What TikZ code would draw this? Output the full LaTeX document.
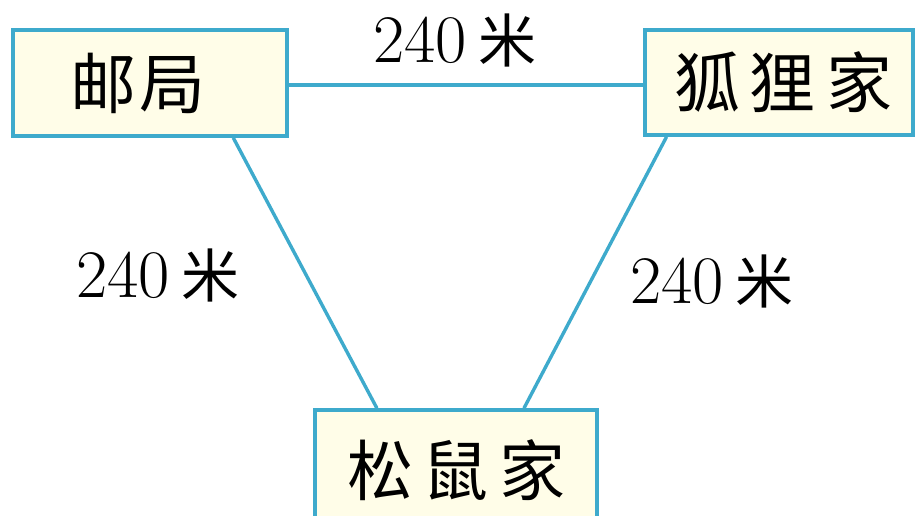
\documentclass[tikz,border=0pt]{standalone}
\usepackage{fontspec}
\newfontfamily\cjk{Noto Sans CJK SC}
\usetikzlibrary{calc}
\definecolor{edge}{RGB}{62,170,204}
\definecolor{cream}{RGB}{255,253,232}
\tikzset{
  placebox/.style={draw=edge, line width=3.6pt, fill=cream, rectangle, inner sep=0pt, font=\cjk\fontsize{66}{72}\selectfont},
  link/.style={draw=edge, line width=3.4pt},
  dist/.style={inner sep=0pt, font=\fontsize{68}{74}\selectfont}
}
\newcommand{\mi}{{\cjk\fontsize{58}{64}\selectfont 米}}
\begin{document}
\begin{tikzpicture}[x=1pt,y=-1pt]
\useasboundingbox (0,0) rectangle (923,516);
\fill[white] (0,0) rectangle (923,516);
\node[placebox, minimum width=274pt, minimum height=106pt] (youju) at (150,83) {\hspace{-24pt}邮\hspace{3pt}局};
\node[placebox, minimum width=268pt, minimum height=105pt] (huli) at (779,82.5) {\hspace{8pt}狐\hspace{10pt}狸\hspace{10pt}家};
\node[placebox, minimum width=282pt, minimum height=124pt] (songshu) at (456,472) {\raisebox{9pt}{松\hspace{10pt}鼠\hspace{10pt}家}};
\draw[link] (youju.east |- 0,85) -- (huli.west |- 0,85);
\draw[link] ($(youju.south west)!0.80!(youju.south east)$) -- ($(songshu.north west)!0.223!(songshu.north east)$);
\draw[link] ($(huli.south west)!0.086!(huli.south east)$) -- ($(songshu.north west)!0.738!(songshu.north east)$);
\node[dist] (top) at (455,40) {240\,\mi};
\node[dist] (left) at (158,275) {240\,\mi};
\node[dist] (right) at (712,281) {240\,\mi};
\end{tikzpicture}
\end{document}
